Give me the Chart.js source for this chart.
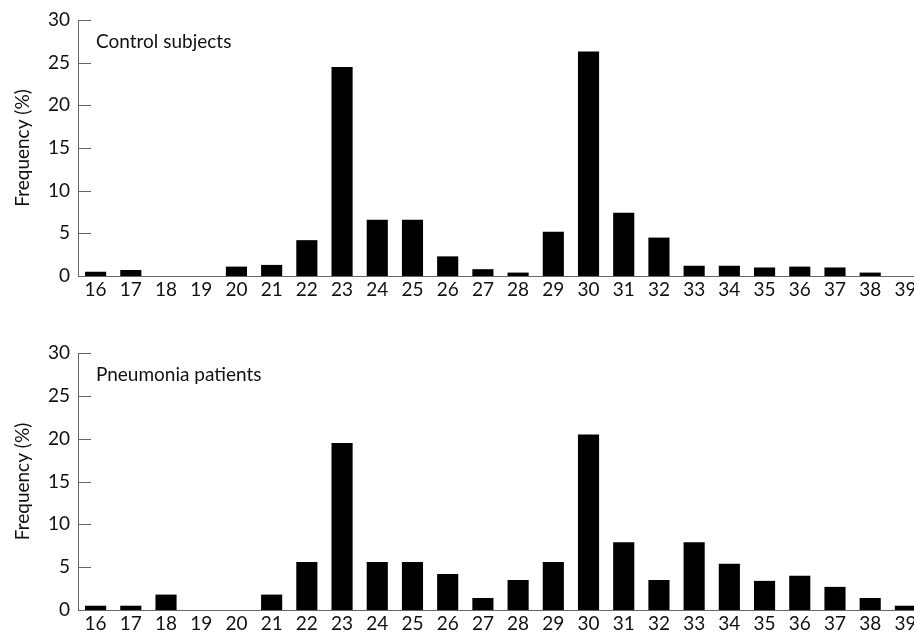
<!DOCTYPE html>
<html>
<head>
<meta charset="utf-8">
<script src="https://cdn.jsdelivr.net/npm/chart.js@4/dist/chart.umd.min.js"></script>
<style>
  html, body { margin: 0; padding: 0; background: #fff; overflow: hidden; }
  body { width: 914px; height: 633px; position: relative; }
  .box { position: absolute; left: 0; width: 930px; height: 310px; }
  #top { top: 0; }
  #bottom { top: 333px; }
</style>
</head>
<body>
<div class="box" id="top"><canvas id="controlChart"></canvas></div>
<div class="box" id="bottom"><canvas id="pneumoniaChart"></canvas></div>
<script>
const categories = ['16', '17', '18', '19', '20', '21', '22', '23', '24', '25', '26', '27',
                    '28', '29', '30', '31', '32', '33', '34', '35', '36', '37', '38', '39'];
const controlValues = [0.5, 0.7, 0, 0, 1.1, 1.3, 4.2, 24.5, 6.6, 6.6, 2.3, 0.8,
                       0.4, 5.2, 26.3, 7.4, 4.5, 1.2, 1.2, 1.0, 1.1, 1.0, 0.4, 0];
const pneumoniaValues = [0.5, 0.5, 1.8, 0, 0, 1.8, 5.6, 19.5, 5.6, 5.6, 4.2, 1.4,
                         3.5, 5.6, 20.5, 7.9, 3.5, 7.9, 5.4, 3.4, 4.0, 2.7, 1.4, 0.5];
const yTicks = [0, 5, 10, 15, 20, 25, 30];

const fontFamily = 'Lato, "Open Sans", sans-serif';
const fontSize = 19;
const axisColor = '#666';

// little ticks pointing into the plot, plus the group label in the corner
const innerTicks = {
    id: 'innerTicks',
    afterDraw(chart, args, opts) {
        const ctx = chart.ctx;
        const y = chart.scales.y;
        const left = chart.chartArea.left;
        ctx.save();
        ctx.strokeStyle = axisColor;
        ctx.lineWidth = 1;
        yTicks.forEach(v => {
            if (v === 0) return;
            const py = Math.round(y.getPixelForValue(v)) + 0.5;
            ctx.beginPath();
            ctx.moveTo(left, py);
            ctx.lineTo(left + 13, py);
            ctx.stroke();
        });
        ctx.fillStyle = '#111';
        ctx.font = fontSize + 'px ' + fontFamily;
        ctx.textBaseline = 'middle';
        ctx.textAlign = 'left';
        ctx.fillText(opts.text, left + 18, chart.chartArea.top + 22);
        ctx.restore();
    }
};

function makeChart(id, values, label, xHeight) {
    const ctx = document.getElementById(id).getContext('2d');
    return new Chart(ctx, {
        type: 'bar',
        data: {
            labels: categories,
            datasets: [{
                data: values,
                backgroundColor: '#000',
                borderWidth: 0,
                barPercentage: 0.6,
                categoryPercentage: 1.0
            }]
        },
        options: {
            responsive: true,
            maintainAspectRatio: false,
            animation: false,
            layout: { padding: { top: 20, right: 7, left: 0, bottom: 0 } },
            plugins: {
                legend: { display: false },
                tooltip: { enabled: false },
                innerTicks: { text: label }
            },
            scales: {
                x: {
                    grid: { display: false, drawTicks: false },
                    border: { display: true, color: axisColor, width: 1 },
                    ticks: {
                        color: '#111',
                        font: { family: fontFamily, size: fontSize },
                        padding: 2,
                        maxRotation: 0,
                        autoSkip: false
                    },
                    afterFit(scale) { scale.height = xHeight; }
                },
                y: {
                    min: 0,
                    max: 30,
                    grid: { display: false, drawTicks: false },
                    border: { display: true, color: axisColor, width: 1 },
                    ticks: {
                        stepSize: 5,
                        color: '#111',
                        font: { family: fontFamily, size: fontSize },
                        padding: 8
                    },
                    title: {
                        display: true,
                        text: 'Frequency (%)',
                        color: '#111',
                        font: { family: fontFamily, size: fontSize },
                        padding: { top: 11, bottom: 0 }
                    },
                    afterFit(scale) { scale.width = 78; }
                }
            }
        },
        plugins: [innerTicks]
    });
}

makeChart('controlChart', controlValues, 'Control subjects', 34);
makeChart('pneumoniaChart', pneumoniaValues, 'Pneumonia patients', 33);
</script>
</body>
</html>
